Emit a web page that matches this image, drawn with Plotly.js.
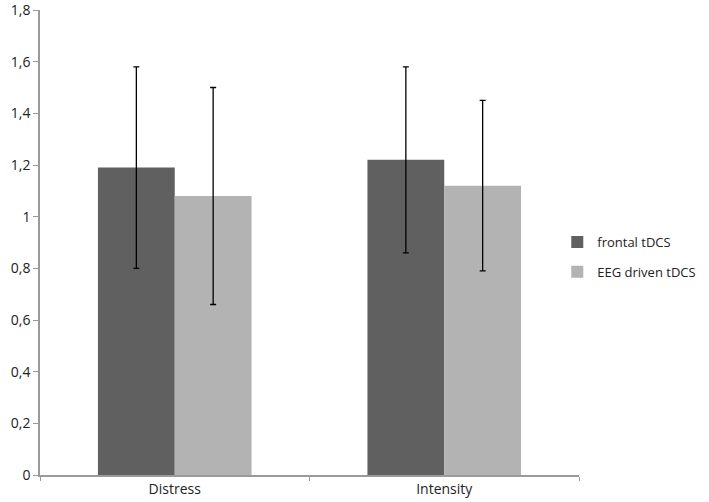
<!DOCTYPE html>
<html>
<head>
<meta charset="utf-8">
<script src="https://cdn.plot.ly/plotly-3.0.1.min.js"></script>
<style>
  body { margin: 0; background: #fff; }
  #chart { width: 709px; height: 502px; }
</style>
</head>
<body>
<div id="chart"></div>
<script>
// values
var categories = ['Distress', 'Intensity'];
var seriesNames = ['frontal tDCS', 'EEG driven tDCS'];
var frontal = [1.19, 1.22];
var frontalErr = [0.39, 0.36];
var eegDriven = [1.08, 1.12];
var eegDrivenErr = [0.42, 0.33];
var yTicks = [0, 0.2, 0.4, 0.6, 0.8, 1, 1.2, 1.4, 1.6, 1.8];

var errStyle = function(arr) {
	return { type: 'data', array: arr, visible: true, color: '#000', thickness: 1.3, width: 3 };
};

var trace1 = {
	x: categories,
	y: frontal,
	name: seriesNames[0],
	legendgroup: 'a',
	type: 'bar',
	marker: { color: '#606060' },
	error_y: errStyle(frontalErr)
};
var trace2 = {
	x: categories,
	y: eegDriven,
	name: seriesNames[1],
	legendgroup: 'b',
	type: 'bar',
	marker: { color: '#b3b3b3' },
	error_y: errStyle(eegDrivenErr)
};

var axisFont = { family: 'Open Sans, Lato, sans-serif', size: 14, color: '#222' };

var layout = {
	width: 709,
	height: 502,
	margin: { l: 40, r: 130, t: 10, b: 27, autoexpand: false },
	separators: ',.',
	barmode: 'group',
	bargap: 0.43,
	bargroupgap: 0,
	showlegend: true,
	legend: {
		xref: 'container', yref: 'container',
		x: 0.786, y: 0.488, xanchor: 'left', yanchor: 'middle',
		font: { family: 'Open Sans, Lato, sans-serif', size: 13, color: '#222' },
		itemwidth: 30,
		traceorder: 'grouped',
		tracegroupgap: 10
	},
	xaxis: {
		type: 'category',
		showline: true, linecolor: '#9a9a9a', linewidth: 1.5,
		ticks: 'outside', tickson: 'boundaries', ticklen: 4, tickcolor: '#9a9a9a',
		tickfont: axisFont,
		showgrid: false, zeroline: false
	},
	yaxis: {
		range: [0, 1.8001],
		tickvals: yTicks,
		ticklabeloverflow: 'allow',
		showline: true, linecolor: '#9a9a9a', linewidth: 1.5,
		ticks: 'outside', ticklen: 5, tickcolor: '#9a9a9a',
		tickfont: axisFont,
		showgrid: false, zeroline: false
	},
	paper_bgcolor: '#fff',
	plot_bgcolor: '#fff'
};

Plotly.newPlot('chart', [trace1, trace2], layout, { displayModeBar: false });
</script>
</body>
</html>
